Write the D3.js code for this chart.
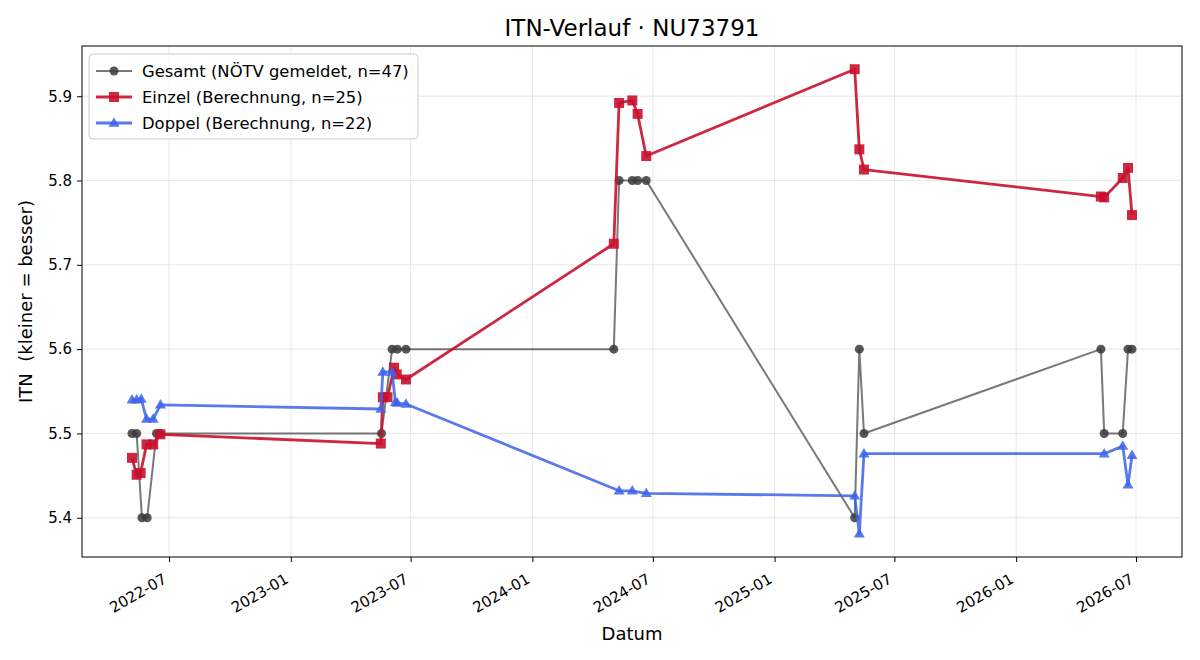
<!DOCTYPE html>
<html>
<head>
<meta charset="utf-8">
<script src="https://cdn.jsdelivr.net/npm/d3@7"></script>
<style>
  body { margin: 0; background: #fff; }
  svg { font-family: "DejaVu Sans", sans-serif; }
</style>
</head>
<body>
<div id="chart"></div>
<script>
// --- data ---
const gesamtDates = ["2022-05-06","2022-05-13","2022-05-21","2022-05-29","2022-06-12","2022-06-17",
  "2023-05-18","2023-06-03","2023-06-11","2023-06-24",
  "2024-05-03","2024-05-11","2024-05-31","2024-06-08","2024-06-21",
  "2025-05-02","2025-05-09","2025-05-16",
  "2026-05-09","2026-05-14","2026-06-11","2026-06-19","2026-06-25"];
const gesamtValues = [5.5,5.5,5.4,5.4,5.5,5.5,
  5.5,5.6,5.6,5.6,
  5.6,5.8,5.8,5.8,5.8,
  5.4,5.6,5.5,
  5.6,5.5,5.5,5.6,5.6];

const einzelDates = ["2022-05-06","2022-05-13","2022-05-19","2022-05-28","2022-06-07","2022-06-18",
  "2023-05-17","2023-05-20","2023-05-27","2023-06-06","2023-06-10","2023-06-24",
  "2024-05-03","2024-05-11","2024-05-31","2024-06-08","2024-06-21",
  "2025-05-02","2025-05-09","2025-05-16",
  "2026-05-09","2026-05-14","2026-06-11","2026-06-19","2026-06-25"];
const einzelValues = [5.471,5.451,5.453,5.487,5.487,5.499,
  5.488,5.543,5.543,5.578,5.570,5.564,
  5.725,5.892,5.895,5.879,5.829,
  5.932,5.837,5.813,
  5.781,5.780,5.803,5.815,5.759];

const doppelDates = ["2022-05-06","2022-05-13","2022-05-20","2022-05-28","2022-06-07","2022-06-18",
  "2023-05-17","2023-05-20","2023-06-03","2023-06-08","2023-06-11","2023-06-24",
  "2024-05-11","2024-05-31","2024-06-21",
  "2025-05-02","2025-05-09","2025-05-16",
  "2026-05-14","2026-06-11","2026-06-19","2026-06-25"];
const doppelValues = [5.540,5.540,5.541,5.517,5.517,5.534,
  5.529,5.573,5.573,5.537,5.536,5.535,
  5.432,5.432,5.429,
  5.426,5.381,5.476,
  5.476,5.485,5.439,5.474];

const seriesNames = ["Gesamt (NÖTV gemeldet, n=47)", "Einzel (Berechnung, n=25)", "Doppel (Berechnung, n=22)"];
const chartTitle = "ITN-Verlauf · NU73791";
const xLabel = "Datum";
const yLabel = "ITN  (kleiner = besser)";

// --- layout ---
const width = 1200, height = 660;
const margin = {top: 46, right: 18, bottom: 103, left: 82};
const plotW = width - margin.left - margin.right;
const plotH = height - margin.top - margin.bottom;

const parse = d3.timeParse("%Y-%m-%d");
const toPoints = (dates, values) => dates.map((d, i) => ({date: parse(d), value: values[i]}));

const series = [
  {name: seriesNames[0], points: toPoints(gesamtDates, gesamtValues), color: "#3a3a3a",
   lineOpacity: 0.68, markerOpacity: 0.85, lineWidth: 2, marker: "circle", size: 9},
  {name: seriesNames[1], points: toPoints(einzelDates, einzelValues), color: "#c8102e",
   lineOpacity: 0.9, markerOpacity: 0.9, lineWidth: 2.8, marker: "square", size: 10},
  {name: seriesNames[2], points: toPoints(doppelDates, doppelValues), color: "#3d63e8",
   lineOpacity: 0.85, markerOpacity: 0.85, lineWidth: 2.8, marker: "triangle", size: 10}
];

const all = series.flatMap(s => s.points);

// matplotlib-like 5% padding
function padded(extent) {
  const span = extent[1] - extent[0];
  return [extent[0] - span * 0.05, extent[1] + span * 0.05];
}
const xDom = padded(d3.extent(all, d => +d.date)).map(v => new Date(v));
const yDom = padded(d3.extent(all, d => d.value));

const x = d3.scaleTime().domain(xDom).range([0, plotW]);
const y = d3.scaleLinear().domain(yDom).range([plotH, 0]);

const svg = d3.select("#chart").append("svg")
    .attr("width", width)
    .attr("height", height);

svg.append("rect").attr("width", width).attr("height", height).attr("fill", "#fff");

const g = svg.append("g").attr("transform", `translate(${margin.left},${margin.top})`);

const xTicks = x.ticks(d3.timeMonth.every(6));
const yTicks = y.ticks(6);

// grid
g.append("g")
  .selectAll("line")
  .data(xTicks)
  .join("line")
    .attr("x1", d => x(d)).attr("x2", d => x(d))
    .attr("y1", 0).attr("y2", plotH)
    .attr("stroke", "#b0b0b0").attr("stroke-opacity", 0.3).attr("stroke-width", 1);
g.append("g")
  .selectAll("line")
  .data(yTicks)
  .join("line")
    .attr("x1", 0).attr("x2", plotW)
    .attr("y1", d => y(d)).attr("y2", d => y(d))
    .attr("stroke", "#b0b0b0").attr("stroke-opacity", 0.3).attr("stroke-width", 1);

// axes
const tickFont = 15;
const xAxis = g.append("g")
    .attr("transform", `translate(0,${plotH})`)
    .call(d3.axisBottom(x).tickValues(xTicks).tickFormat(d3.timeFormat("%Y-%m")).tickSize(5).tickSizeOuter(0));
xAxis.select(".domain").remove();
xAxis.selectAll("line").attr("stroke", "#000");
xAxis.selectAll("text")
    .attr("font-size", tickFont)
    .attr("font-family", "DejaVu Sans")
    .attr("fill", "#000")
    .attr("text-anchor", "end")
    .attr("dy", null)
    .attr("y", null)
    .attr("transform", `translate(${-0.12 * tickFont},${15 + 0.66 * tickFont}) rotate(-30)`);

const yAxis = g.append("g")
    .call(d3.axisLeft(y).tickValues(yTicks).tickFormat(d3.format(".1f")).tickSize(5).tickPadding(5).tickSizeOuter(0));
yAxis.select(".domain").remove();
yAxis.selectAll("line").attr("stroke", "#000");
yAxis.selectAll("text")
    .attr("font-size", tickFont)
    .attr("font-family", "DejaVu Sans")
    .attr("fill", "#000");

// frame
g.append("rect")
    .attr("width", plotW).attr("height", plotH)
    .attr("fill", "none").attr("stroke", "#000").attr("stroke-width", 1);

// marker shapes
function markerPath(type, size) {
  const h = size / 2;
  if (type === "square") return `M${-h},${-h}H${h}V${h}H${-h}Z`;
  if (type === "triangle") return `M0,${-h * 1.15}L${h * 1.1},${h * 0.75}L${-h * 1.1},${h * 0.75}Z`;
  return d3.symbol(d3.symbolCircle, Math.PI * h * h)();
}

const line = d3.line().x(d => x(d.date)).y(d => y(d.value));

const plot = g.append("g");
series.forEach(s => {
  plot.append("path")
      .datum(s.points)
      .attr("d", line)
      .attr("fill", "none")
      .attr("stroke", s.color)
      .attr("stroke-opacity", s.lineOpacity)
      .attr("stroke-width", s.lineWidth)
      .attr("stroke-linejoin", "round");
  plot.append("g")
    .selectAll("path")
    .data(s.points)
    .join("path")
      .attr("transform", d => `translate(${x(d.date)},${y(d.value)})`)
      .attr("d", markerPath(s.marker, s.size))
      .attr("fill", s.color)
      .attr("fill-opacity", s.markerOpacity);
});

// legend
const legend = g.append("g").attr("transform", "translate(7,8)");
legend.append("rect")
    .attr("width", 329).attr("height", 85).attr("rx", 4)
    .attr("fill", "#fff").attr("fill-opacity", 0.8)
    .attr("stroke", "#ccc");
series.forEach((s, i) => {
  const row = legend.append("g").attr("transform", `translate(0,${17 + i * 26})`);
  row.append("line")
      .attr("x1", 7).attr("x2", 43).attr("y1", 0).attr("y2", 0)
      .attr("stroke", s.color).attr("stroke-opacity", s.lineOpacity).attr("stroke-width", s.lineWidth);
  row.append("path")
      .attr("transform", "translate(25,0)")
      .attr("d", markerPath(s.marker, s.size))
      .attr("fill", s.color).attr("fill-opacity", s.markerOpacity);
  row.append("text")
      .attr("x", 53).attr("y", 0).attr("dy", "0.35em")
      .attr("font-size", 16.4)
      .text(s.name);
});

// title and labels
svg.append("text")
    .attr("x", margin.left + plotW / 2).attr("y", 36)
    .attr("text-anchor", "middle")
    .attr("font-size", 23)
    .text(chartTitle);

svg.append("text")
    .attr("x", margin.left + plotW / 2).attr("y", 640)
    .attr("text-anchor", "middle")
    .attr("font-size", 18)
    .text(xLabel);

svg.append("text")
    .attr("transform", `translate(32,${margin.top + plotH / 2}) rotate(-90)`)
    .attr("text-anchor", "middle")
    .attr("font-size", 18)
    .style("white-space", "pre")
    .text(yLabel);
</script>
</body>
</html>
